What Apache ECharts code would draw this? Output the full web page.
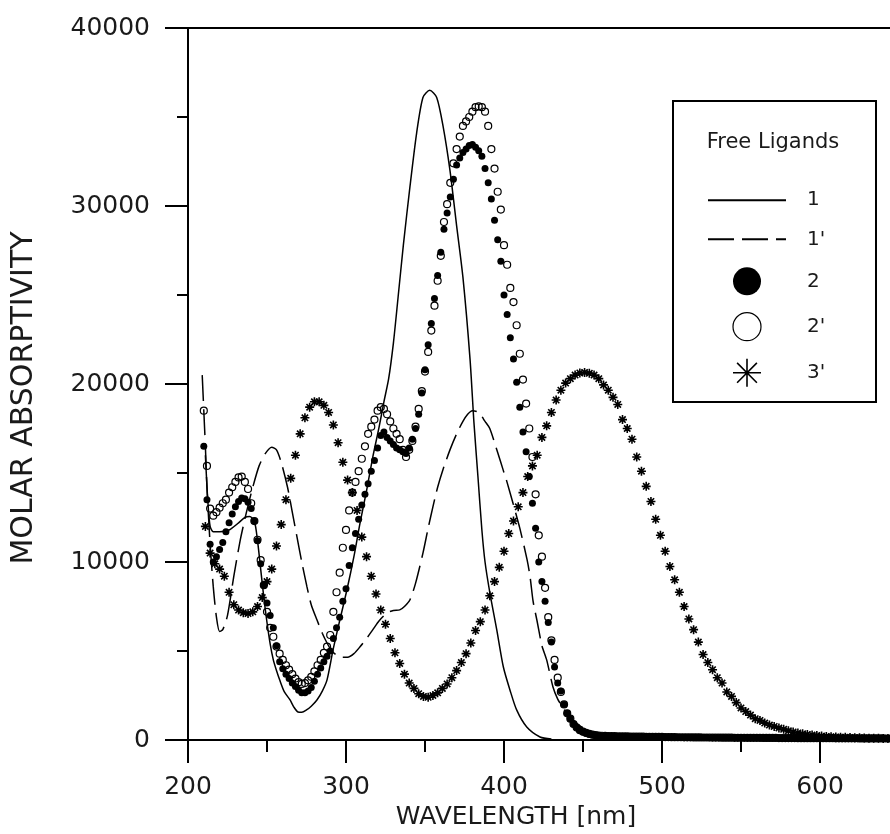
<!DOCTYPE html>
<html>
<head>
<meta charset="utf-8">
<script src="https://cdn.jsdelivr.net/npm/echarts@6/dist/echarts.min.js"></script>
<style>html,body{margin:0;padding:0;background:#fff}#c{width:890px;height:834px}</style>
</head>
<body>
<div id="c"></div>
<script>
// Wavelengths (nm) of the marker series 2 and 2'
const wlDots = [
210,212,214,216,218,220,222,224,226,228,
230,232,234,236,238,240,242,244,246,248,
250,252,254,256,258,260,262,264,266,268,
270,272,274,276,278,280,282,284,286,288,
290,292,294,296,298,300,302,304,306,308,
310,312,314,316,318,320,322,324,326,328,
330,332,334,336,338,340,342,344,346,348,
350,352,354,356,358,360,362,364,366,368,
370,372,374,376,378,380,382,384,386,388,
390,392,394,396,398,400,402,404,406,408,
410,412,414,416,418,420,422,424,426,428,
430,432,434,436,438,440,442,444,446,448,
450,452,454,456,458,460,462,464,466,468,
470,472,474,476,478,480,482,484,486,488,
490,492,494,496,498,500,502,504,506,508,
510,512,514,516,518,520,522,524,526,528,
530,532,534,536,538,540,542,544,546,548,
550,552,554,556,558,560,562,564,566,568,
570,572,574,576,578,580,582,584,586,588,
590,592,594,596,598,600,602,604,606,608,
610,612,614,616,618,620,622,624,626,628,
630,632,634,636,638,640,642,644];

// Series 2 (filled circles)
const abs2 = [
16500,13500,11000,10000,10300,10700,11100,11700,12200,12700,
13100,13400,13600,13550,13350,13000,12300,11200,9900,8700,
7700,7000,6300,5300,4400,4000,3700,3450,3200,3000,
2800,2650,2650,2750,2950,3300,3700,4050,4400,4700,
5000,5700,6300,6900,7800,8500,9800,10800,11600,12400,
13200,13800,14400,15100,15700,16400,17100,17300,17000,16800,
16600,16400,16300,16200,16100,16400,16900,17500,18300,19500,
20800,22200,23400,24800,26100,27400,28700,29600,30500,31500,
32300,32700,33000,33200,33400,33450,33300,33100,32800,32100,
31300,30400,29200,28100,26900,25000,23900,22600,21400,20100,
18700,17300,16200,14800,13300,11900,10000,8900,7800,6600,
5500,4100,3200,2750,2000,1500,1200,900,700,550,
450,380,320,280,250,230,220,215,210,205,
200,200,195,190,190,185,180,180,175,175,
170,170,165,165,160,160,155,155,150,150,
150,145,145,145,140,140,140,135,135,135,
130,130,130,130,125,125,125,125,120,120,
120,120,115,115,115,115,115,110,110,110,
110,110,105,105,105,105,105,105,100,100,
100,100,100,100,95,95,95,95,95,95,
90,90,90,90,90,90,90,90,85,85,
85,85,85,85,85,85,80,80];

// Series 2' (open circles)
const abs2p = [
18500,15400,13000,12600,12800,13050,13300,13500,13900,14200,
14500,14750,14800,14500,14100,13300,12300,11250,10100,8700,
7200,6300,5800,5250,4850,4500,4200,3950,3700,3450,
3250,3150,3200,3350,3550,3850,4200,4500,4900,5250,
5900,7200,8300,9400,10800,11800,12900,13900,14500,15100,
15800,16500,17200,17600,18000,18500,18700,18600,18300,17900,
17500,17200,16900,16300,15900,16300,16800,17600,18600,19600,
20700,21800,23000,24400,25800,27200,29100,30100,31300,32400,
33200,33900,34500,34750,35000,35300,35550,35600,35550,35300,
34500,33200,32100,30800,29800,27800,26700,25400,24600,23300,
21700,20250,18900,17500,15900,13800,11500,10300,8550,6900,
5600,4500,3500,2700,2000,1500,1200,900,700,550,
470,400,340,300,270,250,240,230,225,220,
215,210,205,200,200,195,190,190,185,185,
180,180,175,175,170,170,165,165,160,160,
155,155,150,150,150,145,145,145,140,140,
140,135,135,135,130,130,130,130,125,125,
125,125,120,120,120,120,120,115,115,115,
115,115,110,110,110,110,110,110,105,105,
105,105,105,105,100,100,100,100,100,100,
95,95,95,95,95,95,95,95,90,90,
90,90,90,90,90,90,85,85];

// Series 3' (asterisks)
const wlStars = [
211,214,217,220,223,226,229,232,235,238,
241,244,247,250,253,256,259,262,265,268,
271,274,277,280,283,286,289,292,295,298,
301,304,307,310,313,316,319,322,325,328,
331,334,337,340,343,346,349,352,355,358,
361,364,367,370,373,376,379,382,385,388,
391,394,397,400,403,406,409,412,415,418,
421,424,427,430,433,436,439,442,445,448,
451,454,457,460,463,466,469,472,475,478,
481,484,487,490,493,496,499,502,505,508,
511,514,517,520,523,526,529,532,535,538,
541,544,547,550,553,556,559,562,565,568,
571,574,577,580,583,586,589,592,595,598,
601,604,607,610,613,616,619,622,625,628,
631,634,637,640,643];
const abs3p = [
12000,10500,9900,9600,9200,8300,7600,7300,7150,7100,
7200,7500,8000,8900,9600,10900,12100,13500,14700,16000,
17200,18100,18700,19000,19000,18800,18400,17700,16700,15600,
14600,13900,12900,11400,10300,9200,8200,7300,6500,5700,
4900,4300,3700,3200,2900,2600,2450,2400,2500,2650,
2900,3150,3500,3900,4350,4850,5450,6150,6650,7300,
8100,8900,9700,10600,11600,12300,13100,13900,14800,15400,
16000,17000,17650,18400,19100,19650,20050,20300,20500,20620,
20650,20600,20500,20300,19950,19650,19250,18850,18000,17500,
16900,15900,15100,14250,13400,12400,11500,10600,9750,9000,
8300,7500,6800,6200,5500,4800,4350,3950,3500,3200,
2700,2450,2100,1800,1600,1400,1200,1100,950,840,
760,680,600,520,450,400,350,310,280,250,
220,200,180,170,160,150,140,130,120,110,
105,100,95,90,85];

// Series 1 (solid line)
const wl1 = [211,212.5,214,216,220,226,232,236,239,242,244,246,248,250,252,254,256,258,261,264.6,
267,269.6,272,275,278,281.6,285,288,291.8,296,300.6,305,308.9,313,317,321,324,327,330,333,
336.3,340.5,344.7,348.7,353,357.4,361.4,365.8,370,374,378.5,381,383.5,386,388,391,395.4,399.6,403.8,408,
414.4,422.8,430];
const abs1 = [16000,13500,12000,11700,11700,11800,12200,12500,12550,12300,11200,9600,8000,6600,5400,4500,3900,3380,2700,2250,
1850,1575,1560,1690,1900,2250,2750,3380,5060,6700,8440,10300,12200,14000,15920,17600,19000,20300,22300,24900,
27800,31100,34100,36100,36500,36100,34500,32000,28900,26000,21400,17800,14800,11800,10000,8300,6200,4100,2800,1690,
730,170,50];

// Series 1' (dashed line)
const wl1p = [209,210,211,212,214,216,218,220,222,225,229,233,237,241,245,249,253,256,259,263,
266,269,272,275.3,278,281.6,285,288,291,294,298,301,305,309,313,317,321,326,330,334,
337,340.5,344,348.7,352,355,358,361.4,365.8,370,374,377,380,384,388,391,396,399.4,402,405.7,
410,414.6,416.5,418.4,420.9,424,427,431,434,437,440,443.7,448,452.5,456,460.8,470,480,500,550,
600,644];
const abs1p = [20500,18500,16500,14200,11000,8600,6900,6100,6200,7000,9200,11200,12800,14200,15400,16100,16450,16300,15600,14200,
12800,11400,10000,8600,7600,6750,6000,5450,5000,4780,4650,4650,4850,5250,5700,6200,6700,7140,7280,7310,
7500,7880,8800,10500,11900,13100,14200,15200,16300,17200,17900,18300,18500,18400,17900,17500,16150,15190,14460,13300,
11900,10130,9170,7800,6700,5300,4500,2980,2300,1860,1450,1125,800,560,400,280,180,120,80,40,
20,10];

const seriesNames = ['1', "1'", '2', "2'", "3'"];
const legendTitle = 'Free Ligands';
const xTitle = 'WAVELENGTH [nm]';
const yTitle = 'MOLAR ABSORPTIVITY';

const FONT = 'DejaVu Sans';
const TXT = '#1a1a1a';
const STAR = 'path://M10,0L10,20M0,10L20,10M2.93,2.93L17.07,17.07M2.93,17.07L17.07,2.93';

function zip(xs, ys) { return xs.map(function (x, i) { return [x, ys[i]]; }); }

const chart = echarts.init(document.getElementById('c'), null, { renderer: 'canvas' });
chart.setOption({
  animation: false,
  backgroundColor: '#fff',
  grid: { left: 188, top: 28, width: 711, height: 712, outerBoundsMode: 'none', containLabel: false,
    show: true, borderColor: '#000', borderWidth: 2, backgroundColor: 'transparent' },
  xAxis: [{
    type: 'value', position: 'bottom', min: 200, max: 650, interval: 100,
    axisLine: { show: true, onZero: false, lineStyle: { color: '#000', width: 2 } },
    axisTick: { show: true, length: 23, lineStyle: { color: '#000', width: 2 } },
    splitLine: { show: false },
    axisLabel: { margin: 35, fontFamily: FONT, fontSize: 25, color: TXT, showMaxLabel: false,
      formatter: function (v) { return v % 100 === 0 ? String(v) : ''; } },
    name: xTitle, nameLocation: 'middle', nameGap: 58,
    nameTextStyle: { fontFamily: FONT, fontSize: 25, color: TXT, padding: [0, 55, 0, 0] }
  }, {
    type: 'value', position: 'bottom', min: 200, max: 650, interval: 50,
    axisLine: { show: false },
    axisTick: { show: true, length: 12, lineStyle: { color: '#000', width: 2 } },
    axisLabel: { show: false }, splitLine: { show: false }
  }],
  yAxis: {
    type: 'value', min: 0, max: 40000, interval: 10000,
    axisLine: { show: true, lineStyle: { color: '#000', width: 2 } },
    axisTick: { show: true, length: 23, lineStyle: { color: '#000', width: 2 } },
    minorTick: { show: true, splitNumber: 2, length: 11, lineStyle: { color: '#000', width: 2 } },
    splitLine: { show: false }, minorSplitLine: { show: false },
    axisLabel: { margin: 38, fontFamily: FONT, fontSize: 25, color: TXT, formatter: function (v) { return String(v); } },
    name: yTitle, nameLocation: 'middle', nameGap: 149, nameRotate: 90,
    nameTextStyle: { fontFamily: FONT, fontSize: 30, color: TXT, padding: [0, 28, 0, 0] }
  },
  legend: {
    show: true, orient: 'vertical', left: 702, top: 184,
    itemWidth: 78, itemHeight: 28, itemGap: 16.75, selectedMode: false,
    data: [
      { name: seriesNames[0], itemStyle: { opacity: 0 } },
      { name: seriesNames[1], itemStyle: { opacity: 0 } },
      { name: seriesNames[2], itemStyle: { color: '#000', opacity: 1 } },
      { name: seriesNames[3], itemStyle: { opacity: 1 } },
      { name: seriesNames[4], itemStyle: { opacity: 1 } }
    ],
    itemStyle: { borderWidth: 'inherit' },
    textStyle: { fontFamily: FONT, fontSize: 20, color: TXT, padding: [0, 0, 0, 16] },
    z: 6
  },
  graphic: [
    { type: 'rect', z: 5, shape: { x: 673, y: 101, width: 203, height: 301 },
      style: { fill: '#fff', stroke: '#000', lineWidth: 2 } },
    { type: 'text', z: 6, style: { text: legendTitle, x: 773, y: 143, align: 'center', verticalAlign: 'middle',
      fontFamily: FONT, fontSize: 21, fill: TXT } }
  ],
  series: [
    { name: seriesNames[0], type: 'line', data: zip(wl1, abs1), symbol: 'none', smooth: 0.25,
      lineStyle: { color: '#000', width: 1.5 }, itemStyle: { color: '#000' }, z: 2 },
    { name: seriesNames[1], type: 'line', data: zip(wl1p, abs1p), symbol: 'none', smooth: 0.25,
      lineStyle: { color: '#000', width: 1.5, type: [26, 8] }, itemStyle: { color: '#000' }, z: 2 },
    { name: seriesNames[3], type: 'scatter', data: zip(wlDots, abs2p), symbol: 'circle', symbolSize: 7,
      itemStyle: { color: 'rgba(0,0,0,0)', borderColor: '#000', borderWidth: 1.2, opacity: 1 }, z: 3 },
    { name: seriesNames[2], type: 'scatter', data: zip(wlDots, abs2), symbol: 'circle', symbolSize: 7,
      itemStyle: { color: '#000', opacity: 1 }, z: 3 },
    { name: seriesNames[4], type: 'scatter', data: zip(wlStars, abs3p), symbol: STAR, symbolSize: 9, symbolKeepAspect: true,
      itemStyle: { color: '#000', borderColor: '#000', borderWidth: 1.6, opacity: 1 }, z: 3 }
  ]
});
</script>
</body>
</html>
